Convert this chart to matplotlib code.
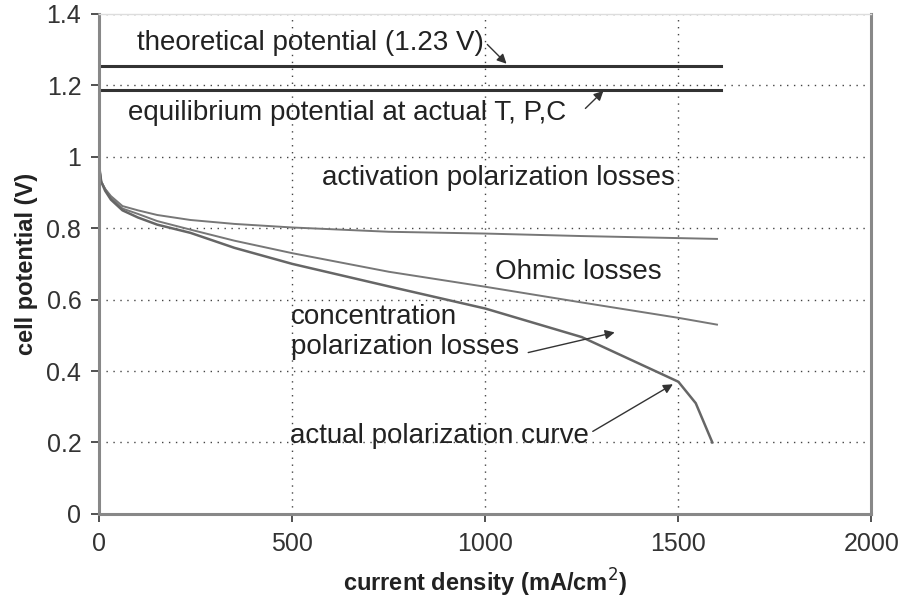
import matplotlib.pyplot as plt

plt.rcParams['font.family'] = ['Liberation Sans', 'DejaVu Sans']

# 理论电位与平衡电位
theo_x = [0, 1610]
theo_y = [1.255, 1.255]
equil_x = [0, 1610]
equil_y = [1.188, 1.188]

# 活化极化曲线
act_x = [0, 5, 15, 30, 60, 100, 150, 236, 350, 500, 750, 1000, 1250, 1600]
act_y = [0.97, 0.93, 0.91, 0.89, 0.862, 0.85, 0.837, 0.823, 0.812, 0.802, 0.79, 0.785, 0.778, 0.77]

# 欧姆损失曲线
ohm_x = [0, 5, 15, 30, 60, 100, 150, 236, 350, 500, 750, 1000, 1250, 1500, 1600]
ohm_y = [0.97, 0.93, 0.91, 0.885, 0.855, 0.84, 0.82, 0.796, 0.765, 0.73, 0.678, 0.636, 0.592, 0.549, 0.53]

# 实际极化曲线
real_x = [0, 5, 15, 30, 60, 100, 150, 236, 350, 500, 750, 1000, 1250, 1420, 1500, 1545, 1588]
real_y = [0.97, 0.93, 0.905, 0.88, 0.85, 0.83, 0.81, 0.787, 0.745, 0.70, 0.637, 0.575, 0.495, 0.41, 0.37, 0.31, 0.2]

fig, ax = plt.subplots(figsize=(9.03, 6.06), dpi=100)
fig.subplots_adjust(left=0.11, right=0.965, top=0.977, bottom=0.152)

ax.plot(theo_x, theo_y, color='#333333', lw=2.2)
ax.plot(equil_x, equil_y, color='#333333', lw=2.2)
ax.plot(act_x, act_y, color='#777777', lw=1.4)
ax.plot(ohm_x, ohm_y, color='#777777', lw=1.4)
ax.plot(real_x, real_y, color='#666666', lw=1.8)

ax.set_xlim(0, 2000)
ax.set_ylim(0, 1.4)
ax.set_xticks([0, 500, 1000, 1500, 2000])
ax.set_yticks([0, 0.2, 0.4, 0.6, 0.8, 1.0, 1.2, 1.4])
ax.set_yticklabels(['0', '0.2', '0.4', '0.6', '0.8', '1', '1.2', '1.4'])
ax.tick_params(labelsize=18, colors='#333333', length=6, width=1.2, pad=7)
ax.grid(True, linestyle=(0, (1, 4)), color='#444444', lw=1.0)

for s in ['left', 'bottom', 'right']:
    ax.spines[s].set_color('#888888')
    ax.spines[s].set_linewidth(2.2)
ax.spines['top'].set_color('#dddddd')
ax.spines['top'].set_linewidth(1)

ax.set_xlabel('current density (mA/cm$^2$)', fontsize=17, fontweight='bold', color='#222222', labelpad=8)
ax.set_ylabel('cell potential (V)', fontsize=17, fontweight='bold', color='#222222', labelpad=6)

fs = 20
tc = '#222222'
ax.text(98, 1.32, 'theoretical potential (1.23 V)', fontsize=fs, color=tc, va='center')
ax.text(75, 1.123, 'equilibrium potential at actual T, P,C', fontsize=fs, color=tc, va='center')
ax.text(578, 0.94, 'activation polarization losses', fontsize=fs, color=tc, va='center')
ax.text(1026, 0.678, 'Ohmic losses', fontsize=fs, color=tc, va='center')
ax.text(497, 0.51, 'concentration\npolarization losses', fontsize=fs, color=tc, va='center', linespacing=1.2)
ax.text(495, 0.218, 'actual polarization curve', fontsize=fs, color=tc, va='center')

arr = dict(arrowstyle='-|>', color='#333333', lw=1.0, mutation_scale=14)
ax.annotate('', xy=(1060, 1.255), xytext=(1000, 1.32), arrowprops=arr)
ax.annotate('', xy=(1311, 1.19), xytext=(1254, 1.13), arrowprops=arr)
ax.annotate('', xy=(1342, 0.51), xytext=(1104, 0.45), arrowprops=arr)
ax.annotate('', xy=(1492, 0.367), xytext=(1272, 0.227), arrowprops=arr)

plt.savefig('out.png')
